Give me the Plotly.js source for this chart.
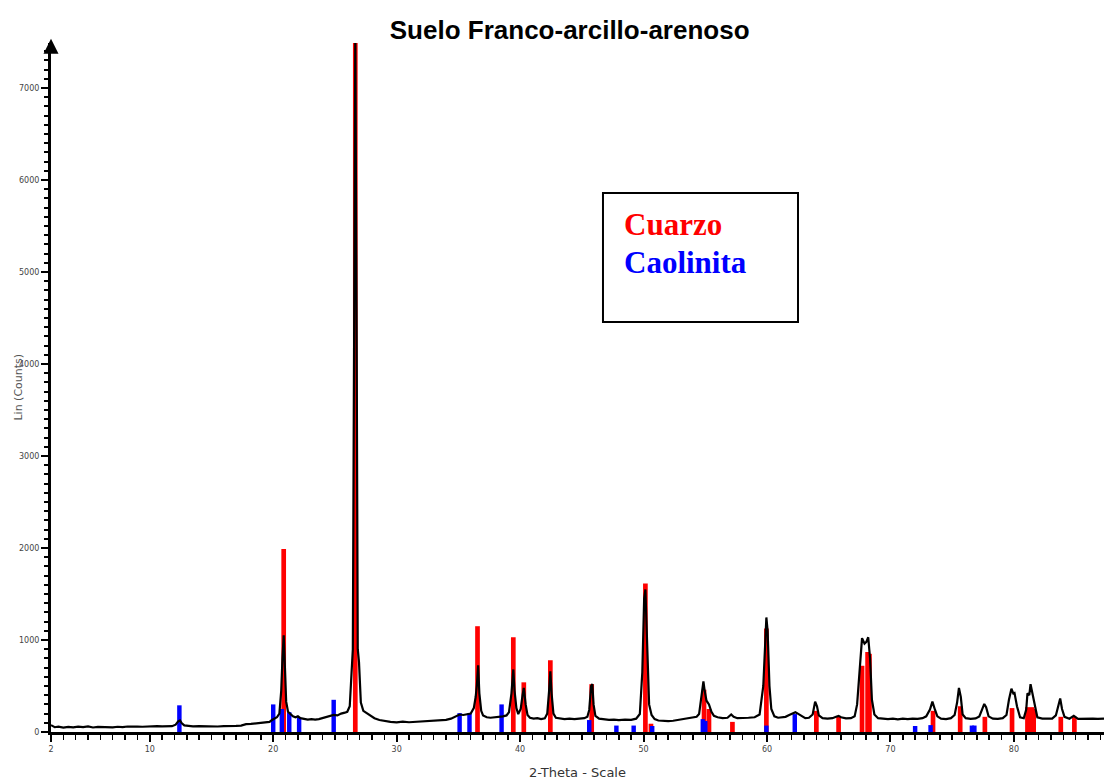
<!DOCTYPE html>
<html>
<head>
<meta charset="utf-8">
<script src="https://cdn.plot.ly/plotly-3.0.1.min.js"></script>
<style>html,body{margin:0;padding:0;background:#fff}#chart{width:1104px;height:781px}</style>
</head>
<body>
<div id="chart"></div>
<script>
// Measured XRD pattern (2-theta, counts)
const twoTheta = [2.0,2.3,2.6,3.0,3.4,3.8,4.2,4.6,5.0,5.4,5.8,6.2,6.6,7.0,7.4,7.8,8.2,8.6,9.0,9.4,9.8,10.2,10.6,11.0,11.4,11.8,12.1,12.3,12.45,12.6,12.8,13.1,13.5,14.0,14.5,15.0,15.5,16.0,16.5,17.0,17.4,17.8,18.2,18.6,19.0,19.4,19.7,19.9,20.1,20.3,20.5,20.65,20.75,20.85,20.95,21.05,21.2,21.4,21.6,21.8,22.0,22.2,22.5,22.8,23.1,23.4,23.7,24.0,24.3,24.6,24.9,25.2,25.5,25.8,26.0,26.2,26.35,26.45,26.55,26.65,26.75,26.85,26.95,27.1,27.3,27.6,27.9,28.2,28.6,29.0,29.5,30.0,30.5,31.0,31.5,32.0,32.5,33.0,33.5,34.0,34.4,34.8,35.1,35.4,35.7,36.0,36.25,36.4,36.5,36.6,36.7,36.85,37.0,37.3,37.6,38.0,38.3,38.6,38.9,39.1,39.3,39.45,39.55,39.7,39.85,40.05,40.2,40.3,40.45,40.6,40.8,41.1,41.4,41.7,42.0,42.2,42.35,42.45,42.55,42.7,42.9,43.2,43.6,44.0,44.4,44.8,45.2,45.45,45.6,45.75,45.85,45.95,46.1,46.4,46.8,47.2,47.6,48.0,48.5,49.0,49.4,49.7,49.9,50.05,50.15,50.3,50.45,50.65,50.9,51.2,51.6,52.0,52.4,52.8,53.2,53.6,54.0,54.3,54.5,54.7,54.85,54.95,55.1,55.3,55.5,55.7,56.0,56.4,56.8,57.1,57.3,57.6,58.0,58.5,59.0,59.4,59.7,59.85,59.95,60.05,60.2,60.35,60.6,60.9,61.2,61.5,61.8,62.1,62.3,62.5,62.8,63.1,63.4,63.7,63.9,64.05,64.2,64.5,64.9,65.3,65.6,65.8,66.0,66.4,66.8,67.1,67.3,67.5,67.7,67.9,68.05,68.2,68.35,68.5,68.7,69.0,69.4,69.8,70.2,70.6,71.0,71.4,71.8,72.2,72.6,72.9,73.2,73.4,73.6,73.8,74.1,74.5,74.9,75.2,75.4,75.55,75.7,75.85,76.1,76.5,76.9,77.2,77.45,77.6,77.75,77.95,78.3,78.7,79.1,79.4,79.6,79.8,79.95,80.05,80.25,80.5,80.8,81.0,81.1,81.25,81.35,81.5,81.7,81.9,82.3,82.7,83.1,83.4,83.6,83.75,83.9,84.1,84.5,84.85,85.2,85.6,86.0,86.4,86.8,87.3];
const counts = [75,52,58,48,56,50,58,53,60,49,56,53,58,51,57,54,60,55,58,57,62,59,64,61,66,63,80,115,125,95,72,66,62,64,60,63,60,64,62,66,70,85,88,92,95,100,110,130,150,160,200,450,800,1050,700,330,220,190,170,160,170,150,140,135,140,135,140,150,160,175,185,180,200,210,220,280,760,900,4130,7600,4600,900,760,320,230,200,175,150,130,118,110,105,112,106,110,115,112,118,125,132,145,170,190,185,190,200,260,380,510,725,420,230,180,160,155,160,165,170,180,215,420,680,450,260,195,250,400,480,300,185,155,145,150,140,148,200,450,660,420,200,155,145,140,145,140,145,150,165,240,500,520,300,175,145,138,132,135,130,135,132,145,195,650,1450,1550,800,300,185,140,125,120,118,122,130,140,150,155,165,195,400,550,450,340,300,220,175,160,150,155,190,165,150,150,155,160,190,500,1000,1245,1100,500,250,170,155,160,165,185,205,215,200,170,150,155,190,330,280,180,150,145,150,165,175,160,148,150,170,300,700,1020,960,980,1030,800,350,190,150,142,140,145,138,145,140,145,142,150,170,245,330,245,170,145,140,150,185,320,480,380,190,150,142,148,170,255,305,270,170,145,142,150,185,350,470,420,425,280,160,150,245,420,400,520,420,260,160,145,142,145,180,300,365,250,165,145,175,142,145,140,146,142,145];

// Reference sticks: Cuarzo (quartz)
const cuarzoPos = [20.85,26.65,36.55,39.45,40.3,42.45,45.8,50.15,50.6,54.9,55.3,57.2,59.95,64.0,65.8,67.7,68.15,68.3,73.45,75.65,77.65,79.85,81.1,81.25,81.45,81.6,83.8,84.9];
const cuarzoInt = [1990,7600,1150,1030,540,780,520,1615,90,460,250,110,1125,230,165,720,870,850,230,280,165,260,270,260,270,250,165,165];

// Reference sticks: Caolinita (kaolinite)
const caolinitaPos = [12.4,20.0,20.7,21.3,22.1,24.9,35.1,35.9,38.5,45.6,47.8,49.2,50.7,54.8,55.0,59.95,62.25,72.0,73.25,76.6,76.8];
const caolinitaInt = [290,300,250,215,160,350,205,205,300,130,70,70,65,140,120,70,195,65,75,70,70];

const xTickVals = [2,10,20,30,40,50,60,70,80];
const xTickText = ['2','10','20','30','40','50','60','70','80'];
const yTickVals = [0,1000,2000,3000,4000,5000,6000,7000];

const traces = [
  {type:'bar', x:cuarzoPos, y:cuarzoInt, width:0.38, marker:{color:'#ff0000', line:{width:0}}, name:'Cuarzo', hoverinfo:'x+y'},
  {type:'bar', x:caolinitaPos, y:caolinitaInt, width:0.36, marker:{color:'#0000ff', line:{width:0}}, name:'Caolinita', hoverinfo:'x+y'},
  {type:'scatter', mode:'lines', x:twoTheta, y:counts, line:{color:'#000000', width:2.2}, name:'Patrón', hoverinfo:'x+y'}
];

const layout = {
  width:1104, height:781,
  margin:{l:51, r:0, t:43, b:49},
  paper_bgcolor:'#ffffff', plot_bgcolor:'#ffffff',
  showlegend:false,
  barmode:'overlay',
  title:{text:'<b>Suelo Franco-arcillo-arenoso</b>', font:{family:'Liberation Sans, Arial, sans-serif', size:26, color:'#000'}, x:0.516, xanchor:'center', xref:'container', y:0.962, yref:'container', yanchor:'middle'},
  xaxis:{
    range:[2,87.3], showgrid:false, zeroline:false,
    showline:true, linecolor:'#000', linewidth:3,
    ticks:'outside', ticklen:7, tickwidth:2, tickcolor:'#000',
    tickvals:xTickVals, ticktext:xTickText,
    tickfont:{family:'DejaVu Sans, Verdana, sans-serif', size:8, color:'#444'},
    minor:{dtick:1, tick0:2, ticks:'outside', ticklen:5, tickwidth:1.5, tickcolor:'#000'},
    title:{text:'2-Theta - Scale', font:{family:'DejaVu Sans, Verdana, sans-serif', size:13, color:'#333'}, standoff:16}
  },
  yaxis:{
    range:[0,7490], showgrid:false, zeroline:false,
    showline:true, linecolor:'#000', linewidth:3,
    ticks:'outside', ticklen:7, tickwidth:2, tickcolor:'#000',
    tickvals:yTickVals,
    tickfont:{family:'DejaVu Sans, Verdana, sans-serif', size:8, color:'#444'},
    minor:{dtick:100, ticks:'outside', ticklen:4, tickwidth:2, tickcolor:'#000'}
  },
  shapes:[
    {type:'rect', xref:'paper', yref:'paper', x0:0.5242, x1:0.7094, y0:0.5951, y1:0.7823, line:{color:'#000', width:2}, fillcolor:'#ffffff', layer:'above'}
  ],
  annotations:[
    {xref:'paper', yref:'paper', x:-0.0313, y:0.5, xanchor:'center', yanchor:'middle', textangle:-90, showarrow:false, text:'Lin (Counts)', font:{family:'DejaVu Sans, Verdana, sans-serif', size:11, color:'#555'}},
    {xref:'paper', yref:'paper', x:0.5422, y:0.7373, xanchor:'left', yanchor:'middle', showarrow:false, text:'<b>Cuarzo</b>', font:{family:'Liberation Serif, Times New Roman, serif', size:31, color:'#ff0000'}},
    {xref:'paper', yref:'paper', x:0.5422, y:0.6821, xanchor:'left', yanchor:'middle', showarrow:false, text:'<b>Caolinita</b>', font:{family:'Liberation Serif, Times New Roman, serif', size:31, color:'#0000ff'}},
    {xref:'paper', yref:'paper', x:0, y:1.006, showarrow:true, arrowhead:2, arrowsize:1, arrowwidth:3, arrowcolor:'#000', ax:0, ay:14, text:''}
  ]
};

Plotly.newPlot('chart', traces, layout, {displayModeBar:false, staticPlot:true});
</script>
</body>
</html>
